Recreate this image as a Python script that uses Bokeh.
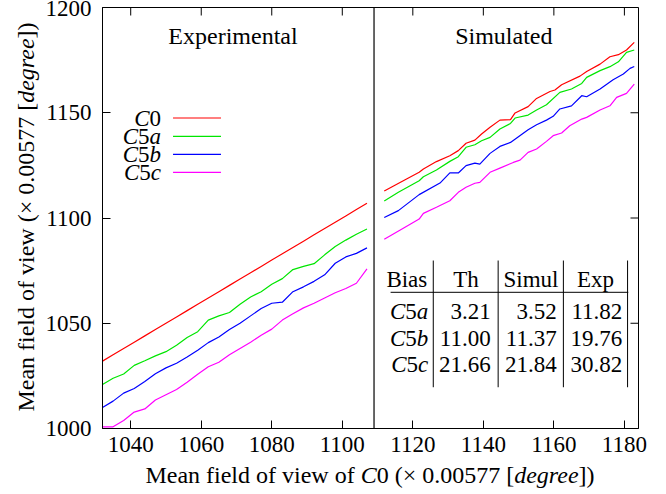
import math
from bokeh.plotting import figure
from bokeh.models import Range1d, Span, ColumnDataSource, FixedTicker, Label, Div
from bokeh.layouts import row, column
from bokeh.embed import file_html
from bokeh.resources import INLINE
from bokeh.core.properties import value

FONT = "Liberation Serif"

# ---------------- data ----------------
exp_x = [1032, 1035, 1038, 1041, 1044, 1047, 1050, 1053, 1056, 1059, 1062, 1065, 1068,
         1071, 1074, 1077, 1080, 1083, 1086, 1089, 1092, 1095, 1098, 1101, 1104, 1107]
exp_c0 = [1032, 1035, 1038, 1041, 1044, 1047, 1050, 1053, 1056, 1059, 1062, 1065, 1068,
          1071, 1074, 1077, 1080, 1083, 1086, 1089, 1092, 1095, 1098, 1101, 1104, 1107]
exp_c5a = [1020.9, 1023.9, 1025.9, 1030.0, 1032.2, 1034.5, 1036.5, 1039.5, 1043.2, 1046.0,
           1051.5, 1053.5, 1055.1, 1059.0, 1062.5, 1065.0, 1068.5, 1071.2, 1075.5, 1077.0,
           1078.3, 1082.5, 1086.5, 1089.5, 1092.3, 1094.8]
exp_c5b = [1010.0, 1013.0, 1016.8, 1019.0, 1022.3, 1026.0, 1028.8, 1031.0, 1034.0, 1037.2,
           1040.8, 1043.5, 1047.0, 1050.0, 1053.5, 1057.0, 1059.5, 1060.0, 1065.0, 1067.3,
           1069.9, 1073.0, 1078.5, 1081.5, 1083.2, 1085.8]
exp_c5c = [1000.8, 1000.8, 1003.8, 1007.8, 1009.3, 1013.5, 1016.0, 1018.5, 1022.0, 1025.8,
           1029.3, 1031.5, 1035.0, 1038.0, 1041.0, 1044.3, 1047.2, 1051.5, 1054.5, 1057.3,
           1059.5, 1062.0, 1064.5, 1066.5, 1069.0, 1075.8]

sim_c0_x = [1111.9, 1117.3, 1121.8, 1123.0, 1126.7, 1130.5, 1132.9, 1135.1, 1137.6, 1139.5,
            1141.9, 1144.7, 1147.7, 1149.0, 1152.7, 1155.1, 1158.9, 1160.3, 1162.2, 1167.4,
            1169.3, 1173.1, 1175.9, 1178.3, 1180.6, 1182.8]
sim_c0_y = [1112.8, 1117.7, 1121.7, 1123.3, 1126.8, 1129.6, 1132.0, 1135.5, 1137.0, 1139.9,
            1143.1, 1146.5, 1146.7, 1149.9, 1152.9, 1156.8, 1160.1, 1160.8, 1163.3, 1167.4,
            1169.6, 1173.1, 1176.6, 1177.6, 1179.8, 1183.4]
sim_c5a_x = [1111.9, 1115.9, 1121.8, 1123.0, 1126.7, 1130.5, 1132.9, 1135.1, 1137.6, 1139.5,
             1141.9, 1144.7, 1147.7, 1149.0, 1152.7, 1155.1, 1157.9, 1161.7, 1165.0, 1167.9,
             1169.3, 1173.1, 1175.9, 1178.3, 1180.6, 1182.8]
sim_c5a_y = [1108.1, 1112.2, 1117.7, 1119.6, 1122.8, 1126.9, 1129.1, 1133.6, 1134.8, 1136.7,
             1138.3, 1142.3, 1144.9, 1147.5, 1148.9, 1151.3, 1153.8, 1159.7, 1161.3, 1163.9,
             1166.8, 1170.0, 1171.9, 1174.2, 1178.7, 1179.8]
sim_c5b_x = [1111.9, 1115.9, 1121.8, 1127.7, 1130.5, 1132.9, 1135.1, 1137.6, 1139.0, 1141.9,
             1144.7, 1147.7, 1152.7, 1155.1, 1157.9, 1159.8, 1161.7, 1165.0, 1167.9, 1169.3,
             1173.1, 1176.8, 1179.7, 1181.6, 1182.8]
sim_c5b_y = [1100.2, 1103.5, 1111.1, 1116.6, 1121.4, 1121.4, 1124.9, 1126.1, 1125.6, 1130.7,
             1134.0, 1135.9, 1141.9, 1144.3, 1146.5, 1148.3, 1151.8, 1153.3, 1158.1, 1157.6,
             1161.3, 1165.7, 1168.4, 1171.1, 1172.0]
sim_c5c_x = [1111.9, 1117.3, 1121.8, 1123.0, 1126.7, 1130.5, 1132.9, 1135.1, 1137.6, 1139.0,
             1141.9, 1144.7, 1148.5, 1150.4, 1152.7, 1155.1, 1157.9, 1159.8, 1162.2, 1164.5,
             1167.9, 1169.3, 1173.1, 1175.9, 1177.8, 1180.6, 1182.8]
sim_c5c_y = [1089.9, 1095.1, 1099.5, 1102.2, 1105.1, 1108.2, 1112.2, 1114.6, 1116.5, 1116.9,
             1121.7, 1123.7, 1126.4, 1127.5, 1131.2, 1132.8, 1136.4, 1139.1, 1140.4, 1143.8,
             1147.0, 1147.8, 1151.3, 1153.3, 1157.3, 1159.2, 1163.6]

series_colors = ["#ff0000", "#00e600", "#0000ff", "#ff00ff"]
# legend labels as (text, italic) pieces: C0, C5a, C5b, C5c
series_names = [[("C", True), ("0", False)],
                [("C", True), ("5", False), ("a", True)],
                [("C", True), ("5", False), ("b", True)],
                [("C", True), ("5", False), ("c", True)]]

x_ticks = [1040, 1060, 1080, 1100, 1120, 1140, 1160, 1180]
y_ticks = [1000, 1050, 1100, 1150, 1200]

table_header = ["Bias", "Th", "Simul", "Exp"]
table_bias = series_names[1:]
table_th = ["3.21", "11.00", "21.66"]
table_simul = ["3.52", "11.37", "21.84"]
table_exp = ["11.82", "19.76", "30.82"]

x_label_html = "Mean field of view of <i>C</i>0 (\u00d7 0.00577 [<i>degree</i>])"
y_label_html = "Mean field of view (\u00d7 0.00577 [<i>degree</i>])"

separator_x = 1109

# ---------------- text metrics (Times-compatible, per 1000 em) ----------------
REG = {" ": 250, "C": 667, ".": 250}
for ch in "0123456789":
    REG[ch] = 500
ITA = {"C": 667, "a": 500, "b": 500, "c": 444}


def text_width(s, italic, size):
    table = ITA if italic else REG
    return sum(table.get(c, 500) for c in s) * size / 1000.0


# ---------------- figure ----------------
YDIV_W = 40
p = figure(width=648 - YDIV_W, height=464, x_range=Range1d(1032, 1184), y_range=Range1d(1000, 1200),
           output_backend="svg", toolbar_location=None,
           min_border_left=102 - YDIV_W, min_border_right=10, min_border_top=7, min_border_bottom=36,
           margin=0)
p.grid.visible = False
p.outline_line_color = "black"
p.outline_line_width = 1
p.background_fill_color = "white"
p.border_fill_color = "white"

p.xaxis.ticker = FixedTicker(ticks=x_ticks)
p.yaxis.ticker = FixedTicker(ticks=y_ticks)
for ax in (p.xaxis[0], p.yaxis[0]):
    ax.major_tick_in = 8
    ax.major_tick_out = 0
    ax.minor_tick_in = 0
    ax.minor_tick_out = 0
    ax.axis_line_color = "black"
    ax.major_tick_line_color = "black"
    ax.major_label_text_font = FONT
    ax.major_label_text_font_size = "23px"
    ax.major_label_text_color = "black"
p.xaxis.major_label_standoff = 8
p.yaxis.major_label_standoff = 11

# mirror ticks on top and right sides
p.ray(x=x_ticks, y=[1200] * len(x_ticks), length=8, length_units="screen", angle=-math.pi / 2,
      line_color="black", line_width=1)
p.ray(x=[1184] * len(y_ticks), y=y_ticks, length=8, length_units="screen", angle=math.pi,
      line_color="black", line_width=1)

# lines
exp_series = [exp_c0, exp_c5a, exp_c5b, exp_c5c]
sim_series = [(sim_c0_x, sim_c0_y), (sim_c5a_x, sim_c5a_y), (sim_c5b_x, sim_c5b_y), (sim_c5c_x, sim_c5c_y)]
for ys, (sx, sy), col in zip(exp_series, sim_series, series_colors):
    p.line(exp_x, ys, line_color=col, line_width=1.2)
    p.line(sx, sy, line_color=col, line_width=1.2)

p.add_layout(Span(location=separator_x, dimension="height", line_color="black", line_width=1.2))


def add_pieces(pieces, x, y, size):
    """Right-aligned mixed italic/upright label ending at (x, y)."""
    widths = [text_width(s, it, size) for s, it in pieces]
    total = sum(widths)
    cum = 0.0
    for (s, it), w in zip(pieces, widths):
        p.add_layout(Label(x=x, y=y, x_offset=-total + cum, text=s,
                           text_align="left", text_baseline="middle", text_font=FONT,
                           text_font_size="%gpx" % size, text_color="black",
                           text_font_style="italic" if it else "normal"))
        cum += w


# titles
p.add_layout(Label(x=1069, y=1186.6, text="Experimental", text_align="center", text_baseline="middle",
                   text_font=FONT, text_font_size="24px", text_color="black"))
p.add_layout(Label(x=1145.8, y=1186.6, text="Simulated", text_align="center", text_baseline="middle",
                   text_font=FONT, text_font_size="24px", text_color="black"))

# legend (label then sample line)
leg_y = [1147.5, 1138.8, 1130.2, 1121.7]
for pieces, yy in zip(series_names, leg_y):
    add_pieces(pieces, 1048.6, yy, 23)
leg_src = ColumnDataSource(dict(x0=[1052] * 4, x1=[1065.6] * 4, y=leg_y, c=series_colors))
p.segment(x0="x0", y0="y", x1="x1", y1="y", line_color="c", line_width=1.2, source=leg_src)

# table
col_lines_x = [1125.8, 1144.2, 1162.7, 1180.9]
p.segment(x0=col_lines_x, y0=[1079.8] * 4, x1=col_lines_x, y1=[1019.6] * 4, line_color="black", line_width=1)
p.segment(x0=[1113.7], y0=[1064.7], x1=[1181.1], y1=[1064.7], line_color="black", line_width=1)

hdr_y = 1070.6
row_y = [1055.6, 1042.9, 1030.4]
p.text(x=[1118.3, 1135.1, 1153.5, 1171.8], y=[hdr_y] * 4, text=table_header, text_align="center",
       text_baseline="middle", text_font=value(FONT), text_font_size="23px", text_color="black")
for pieces, yy in zip(table_bias, row_y):
    add_pieces(pieces, 1124.4, yy, 23)
for xr, vals in ((1142.1, table_th), (1160.8, table_simul), (1179.4, table_exp)):
    p.text(x=[xr] * 3, y=row_y, text=vals, text_align="right", text_baseline="middle",
           text_font=value(FONT), text_font_size="23px", text_color="black")

# axis titles as HTML (mixed italic)
font_css = "font-family:'Liberation Serif';font-size:24px;color:black;white-space:nowrap;"
xdiv = Div(text=('<div style="width:536px;margin-left:%dpx;text-align:center;line-height:22px;%s">%s</div>'
                 % (102 - YDIV_W, font_css, x_label_html)),
           width=648 - YDIV_W, height=22, margin=0)
ydiv = Div(text=('<div style="position:relative;width:%dpx;height:486px;">'
                 '<div style="position:absolute;left:26px;top:217px;width:max-content;line-height:24px;'
                 'transform:translate(-50%%,-50%%) rotate(-90deg);%s">%s</div></div>'
                 % (YDIV_W, font_css, y_label_html)),
           width=YDIV_W, height=486, margin=0)

layout = row(ydiv, column(p, xdiv, spacing=0, margin=0), spacing=0, margin=0)
open("out.html", "w").write(file_html(layout, INLINE))
